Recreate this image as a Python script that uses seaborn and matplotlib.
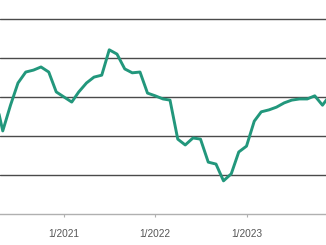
import matplotlib
matplotlib.use("Agg")
import matplotlib.pyplot as plt
import seaborn as sns
import pandas as pd
import numpy as np

# ---- data ----
start_month = "2020-04-01"
values = [3.00, 2.13, 2.79, 3.36, 3.64, 3.69, 3.77, 3.64, 3.13,
          3.00, 2.87, 3.13, 3.36, 3.51, 3.56, 4.21, 4.10, 3.72, 3.62, 3.64, 3.10,
          3.03, 2.95, 2.92, 1.92, 1.77, 1.95, 1.92, 1.33, 1.28, 0.85, 1.03, 1.59,
          1.74, 2.38, 2.62, 2.67, 2.74, 2.85, 2.92, 2.95, 2.95, 3.03, 2.79, 3.05]
tick_dates = ["2021-01-01", "2022-01-01", "2023-01-01"]
tick_labels = ["1/2021", "1/2022", "1/2023"]
grid_levels = [1, 2, 3, 4, 5]

dates = pd.date_range(start_month, periods=len(values), freq="MS")
df = pd.DataFrame({"date": dates, "value": values})

sns.set_theme(style="white")
plt.rcParams["font.family"] = ["Liberation Sans", "DejaVu Sans"]

fig = plt.figure(figsize=(3.26, 2.45), dpi=100)
ax = fig.add_axes([0, 31 / 245, 1, 214 / 245])

for g in grid_levels:
    ax.axhline(g, color="#4a4a4a", lw=1.0, zorder=1)

sns.lineplot(data=df, x="date", y="value", ax=ax, color="#22977c", lw=2.1, zorder=3)

ax.set_xlim(pd.Timestamp("2020-04-20"), pd.Timestamp("2023-11-15"))
ax.set_ylim(0, 214 / 39)
ax.set_xticks(pd.to_datetime(tick_dates))
ax.set_xticklabels(tick_labels)
ax.set_yticks([])
ax.set_xlabel("")
ax.set_ylabel("")
for s in ["top", "left", "right"]:
    ax.spines[s].set_visible(False)
ax.spines["bottom"].set_color("#b0b0b0")
ax.spines["bottom"].set_linewidth(1.0)
ax.tick_params(axis="x", bottom=True, length=2.5, width=0.8, color="#b0b0b0",
               pad=8, labelsize=7.3, labelcolor="#555555")

fig.savefig("out.png", dpi=100)
